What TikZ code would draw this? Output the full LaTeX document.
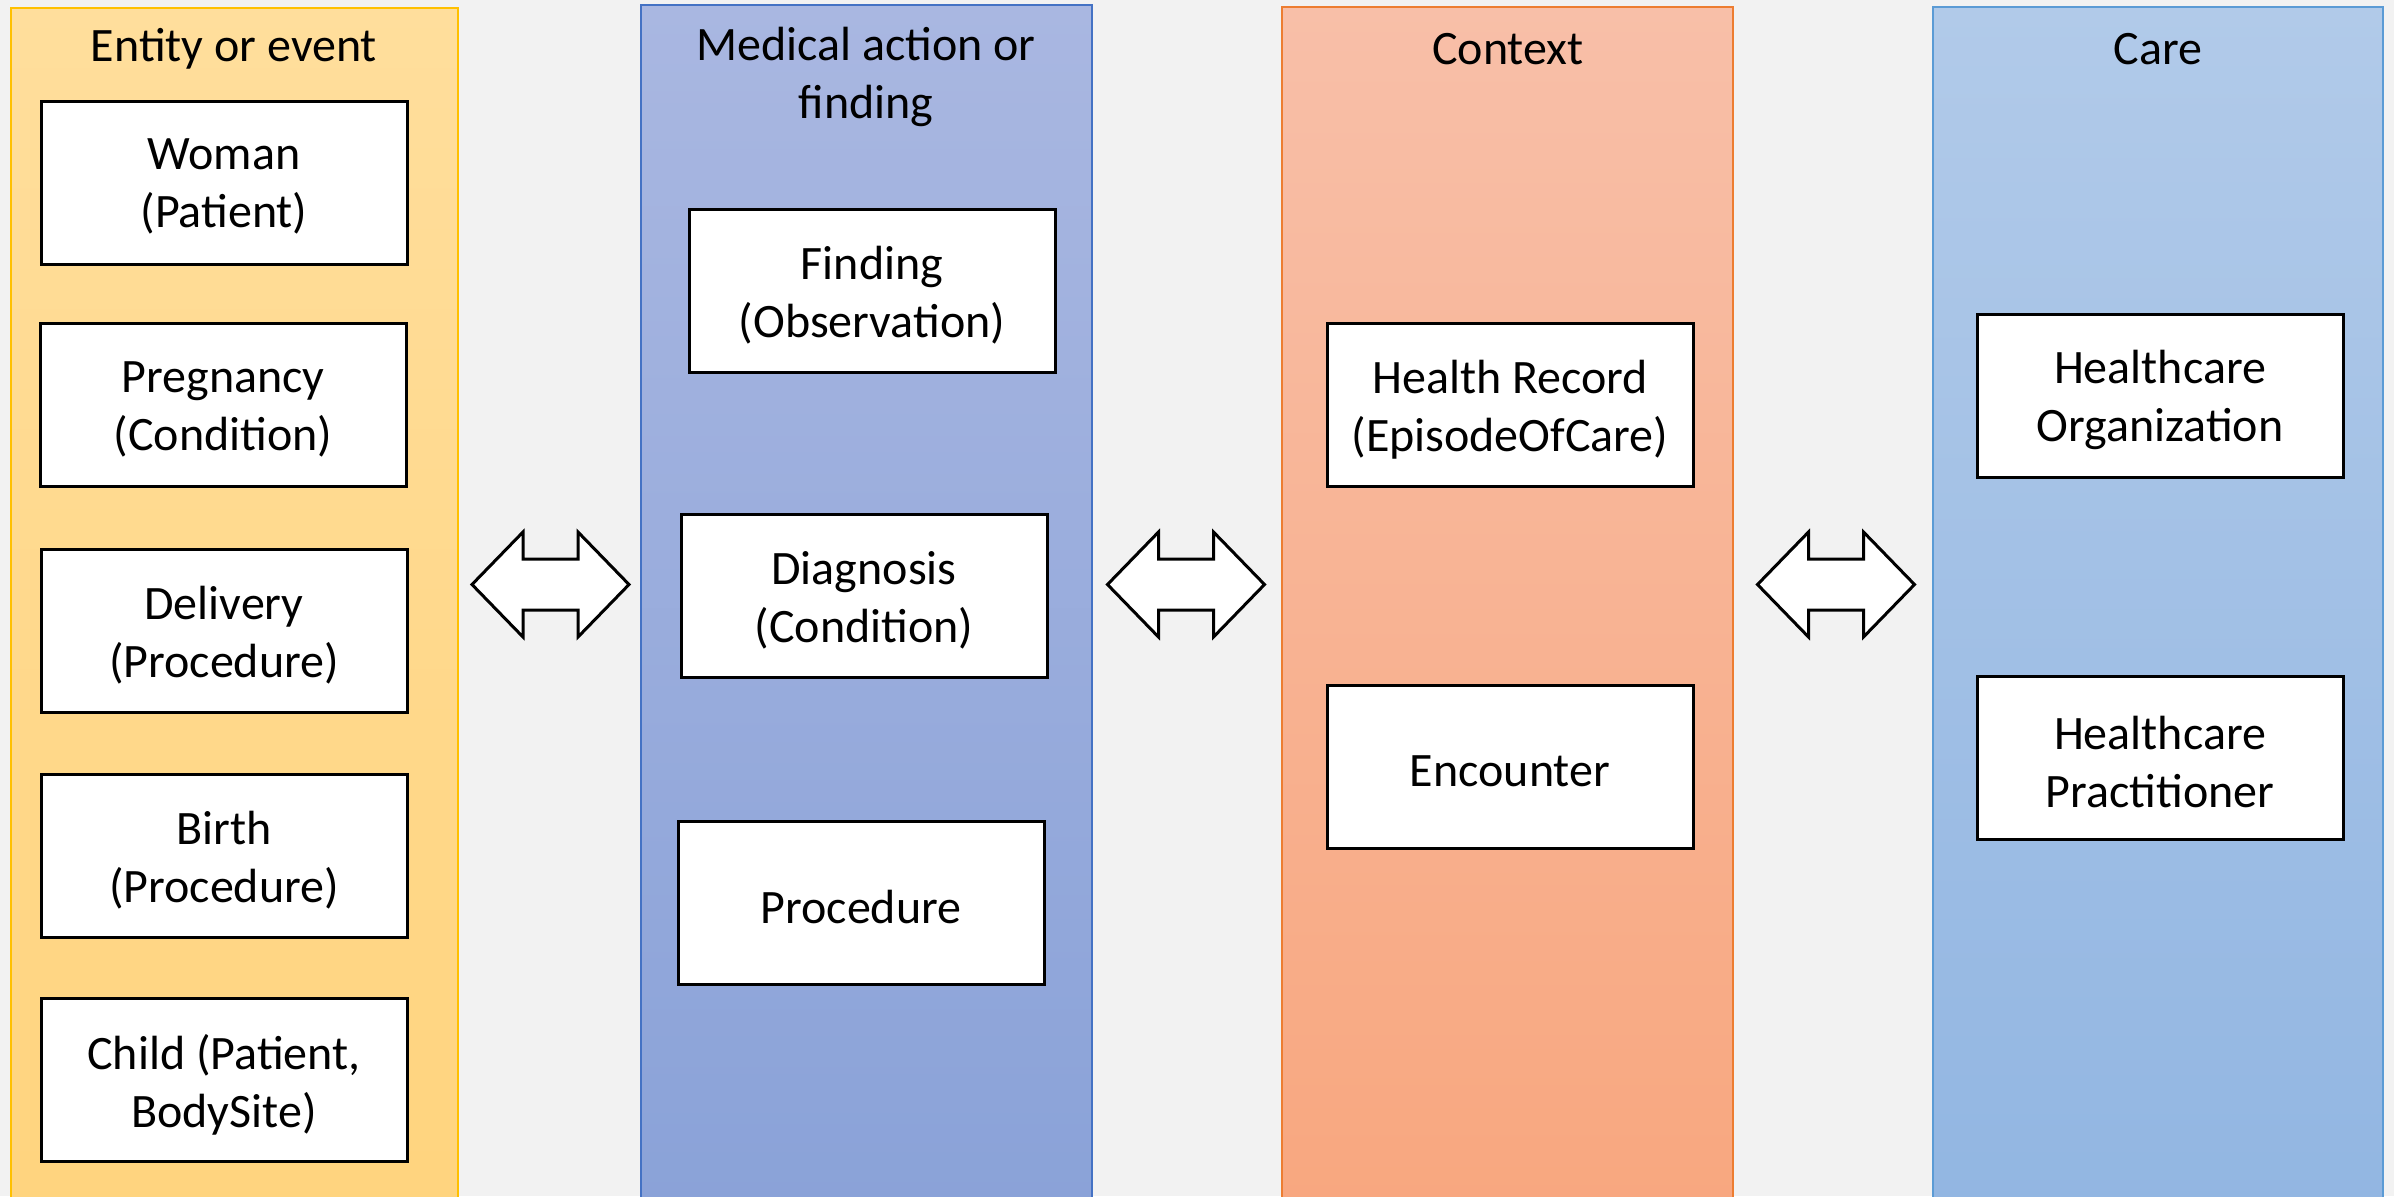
\documentclass[tikz,border=0pt]{standalone}
\usepackage{fontspec}
\setmainfont{Carlito}
\definecolor{bgc}{HTML}{F2F2F2}
\definecolor{yTop}{HTML}{FFDE9C}
\definecolor{yBot}{HTML}{FFD47E}
\definecolor{yLine}{HTML}{FFC000}
\definecolor{pTop}{HTML}{A9B7E1}
\definecolor{pBot}{HTML}{8AA2D8}
\definecolor{pLine}{HTML}{4472C4}
\definecolor{oTop}{HTML}{F8BFA8}
\definecolor{oBot}{HTML}{F8A77F}
\definecolor{oLine}{HTML}{ED7D31}
\definecolor{bTop}{HTML}{B1CAE9}
\definecolor{bBot}{HTML}{92B6E2}
\definecolor{bLine}{HTML}{5B9BD5}
\tikzset{
  colbox/.style={line width=1pt},
  itembox/.style={draw=black, line width=1.5pt, fill=white, minimum width=183pt, minimum height=81.5pt, inner sep=0pt,
    label={[align=center, inner sep=0pt, yshift=-2.2pt, font=\fontsize{24}{29}\selectfont]center:{#1}}},
  coltitle/.style={anchor=center, align=center, inner sep=0pt, font=\fontsize{24}{29}\selectfont},
  dblarrow/.style={draw=black, line width=1.5pt, fill=white, line join=miter}
}
\newcommand{\dblarrowat}[2]{%
  \draw[dblarrow] (#1-78.5,#2) -- (#1-27.5,#2-52.5) -- (#1-27.5,#2-25.5) -- (#1+27.5,#2-25.5) -- (#1+27.5,#2-52.5) -- (#1+78.5,#2) -- (#1+27.5,#2+52.5) -- (#1+27.5,#2+25.5) -- (#1-27.5,#2+25.5) -- (#1-27.5,#2+52.5) -- cycle;}
\begin{document}
\begin{tikzpicture}[x=0.5pt,y=-0.5pt]
\fill[bgc] (0,0) rectangle (2394,1196);
\useasboundingbox (0,0) rectangle (2394,1196);
% columns
\draw[colbox, draw=yLine, top color=yTop, bottom color=yBot] (11,8) rectangle (458,1210);
\draw[colbox, draw=pLine, top color=pTop, bottom color=pBot] (641,5) rectangle (1092,1210);
\draw[colbox, draw=oLine, top color=oTop, bottom color=oBot] (1282,7) rectangle (1733,1210);
\draw[colbox, draw=bLine, top color=bTop, bottom color=bBot] (1933,7) rectangle (2383,1210);
% titles
\node[coltitle] (t1) at (234,49) {Entity or event};
\node[coltitle] (t2) at (866,77) {Medical action or\\finding};
\node[coltitle] (t3) at (1508,49) {Context};
\node[coltitle] (t4) at (2158,49) {Care};
% column 1
\node[itembox={Woman\\(Patient)}] (woman) at (224,182.5) {};
\node[itembox={Pregnancy\\(Condition)}] (preg) at (223,405) {};
\node[itembox={Delivery\\(Procedure)}] (deliv) at (224,631) {};
\node[itembox={Birth\\(Procedure)}] (birth) at (224,856) {};
\node[itembox={Child (Patient,\\BodySite)}] (child) at (224,1080) {};
% column 2
\node[itembox={Finding\\(Observation)}] (find) at (872,291) {};
\node[itembox={Diagnosis\\(Condition)}] (diag) at (864,596) {};
\node[itembox={Procedure}] (proc) at (861,903) {};
% column 3
\node[itembox={Health Record\\(EpisodeOfCare)}] (hrec) at (1510,405) {};
\node[itembox={Encounter}] (enc) at (1510,767) {};
% column 4
\node[itembox={Healthcare\\Organization}] (org) at (2160,396) {};
\node[itembox={Healthcare\\Practitioner}] (prac) at (2160,758) {};
% double arrows
\dblarrowat{550.5}{584.5}
\dblarrowat{1186}{584.5}
\dblarrowat{1836}{584.5}
\end{tikzpicture}
\end{document}
